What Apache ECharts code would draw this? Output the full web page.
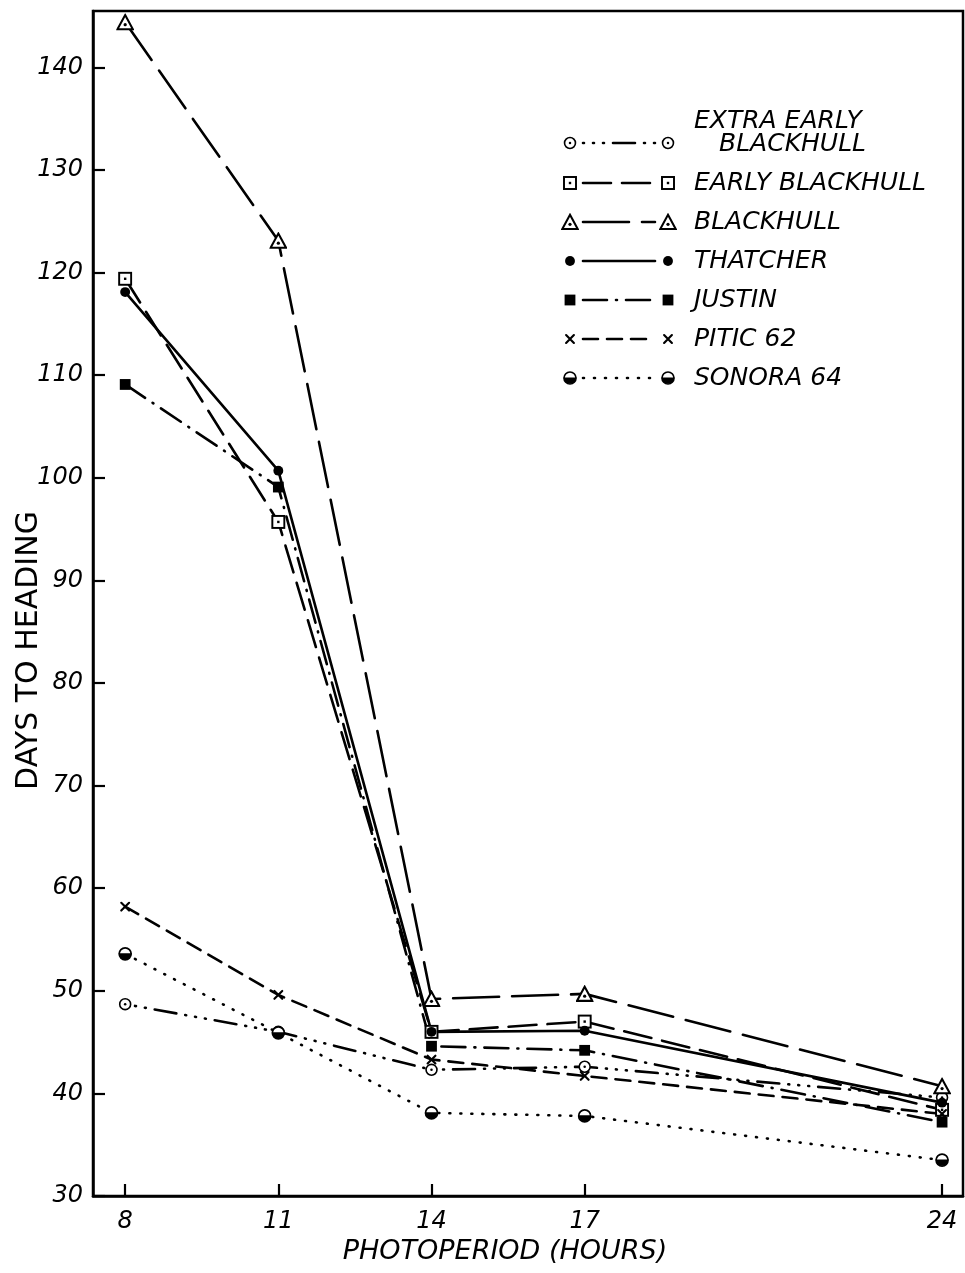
<!DOCTYPE html>
<html><head><meta charset="utf-8">
<script src="https://cdn.jsdelivr.net/npm/echarts@6/dist/echarts.min.js"></script>
<style>html,body{margin:0;padding:0;background:#fff}#c{width:965px;height:1273px}</style>
</head><body><div id="c"></div>
<script>
// ---- data ----
const photoperiod = [8, 11, 14, 17, 24];
const extraEarlyBlackhull = [48.7, 46.0, 42.3, 42.6, 39.6];
const earlyBlackhull = [119.4, 95.7, 46.0, 47.0, 38.4];
const blackhull = [144.4, 123.1, 49.2, 49.7, 40.7];
const thatcher = [118.1, 100.7, 46.0, 46.1, 39.1];
const justin = [109.1, 99.1, 44.6, 44.2, 37.2];
const pitic62 = [58.2, 49.6, 43.3, 41.7, 38.0];
const sonora64 = [53.6, 45.9, 38.1, 37.8, 33.5];
const xTicks = [8, 11, 14, 17, 24];
const yTicks = [30, 40, 50, 60, 70, 80, 90, 100, 110, 120, 130, 140];
const seriesNames = ['EXTRA EARLY BLACKHULL', 'EARLY BLACKHULL', 'BLACKHULL', 'THATCHER', 'JUSTIN', 'PITIC 62', 'SONORA 64'];
const xAxisTitle = 'PHOTOPERIOD (HOURS)';
const yAxisTitle = 'DAYS TO HEADING';

// ---- styles ----
const FONT = 'DejaVu Sans';
function svgUrl(body) {
  return 'data:image/svg+xml;charset=utf-8,' + encodeURIComponent(
    "<svg xmlns='http://www.w3.org/2000/svg' width='40' height='40' viewBox='0 0 20 20'>" + body + "</svg>");
}
const markers = {
  circleDot: svgUrl("<circle cx='10' cy='10' r='7.8' fill='white' stroke='black' stroke-width='2.3'/><circle cx='10' cy='10' r='1.8' fill='black'/>"),
  squareDot: svgUrl("<rect x='2' y='2' width='16' height='16' fill='white' stroke='black' stroke-width='2.6'/><rect x='8.4' y='8.4' width='3.2' height='3.2' fill='black'/>"),
  triangleDot: svgUrl("<polygon points='10,2 18.6,17.8 1.4,17.8' fill='white' stroke='black' stroke-width='2.3'/><circle cx='10' cy='12.6' r='1.8' fill='black'/>"),
  dot: svgUrl("<circle cx='10' cy='10' r='9' fill='black'/>"),
  filledSquare: svgUrl("<rect x='1' y='1' width='18' height='18' fill='black'/>"),
  cross: svgUrl("<path d='M3.5,3.5 L16.5,16.5 M16.5,3.5 L3.5,16.5' stroke='black' stroke-width='3.6' stroke-linecap='round'/>"),
  halfCircle: svgUrl("<circle cx='10' cy='10' r='8' fill='white' stroke='black' stroke-width='2.3'/><path d='M1.6,9.2 A8.4,8.4 0 0 0 18.4,9.2 Z' fill='black'/>")
};
const styles = [
  { marker: markers.circleDot, size: 14, dash: [1, 9, 1, 9, 1, 9, 22, 9] },
  { marker: markers.squareDot, size: 15, dash: [28, 11] },
  { marker: markers.triangleDot, size: 18, dash: [46, 13] },
  { marker: markers.dot, size: 11, dash: 'solid' },
  { marker: markers.filledSquare, size: 12, dash: [24, 9, 1, 9] },
  { marker: markers.cross, size: 12, dash: [15, 9] },
  { marker: markers.halfCircle, size: 15, dash: [1, 10] }
];
const values = [extraEarlyBlackhull, earlyBlackhull, blackhull, thatcher, justin, pitic62, sonora64];

const series = values.map((vals, i) => ({
  name: seriesNames[i],
  type: 'line',
  data: photoperiod.map((x, j) => [x, vals[j]]),
  symbol: 'image://' + styles[i].marker,
  symbolSize: styles[i].size,
  showAllSymbol: true,
  lineStyle: { color: '#000', width: 2.6, type: styles[i].dash, cap: 'round' },
  itemStyle: { color: '#000' },
  emphasis: { disabled: true },
  animation: false
}));

// ---- legend drawn as graphic (marker – line – marker, label) ----
const legendEls = [];
const rowY = [143, 183, 222, 261, 300, 339, 378];
const LFONT = 'italic 25px "' + FONT + '"';
styles.forEach((s, i) => {
  const y = rowY[i];
  legendEls.push({ type: 'line', shape: { x1: 583, y1: y, x2: 655, y2: y },
    style: { stroke: '#000', lineWidth: 2.6, lineDash: s.dash === 'solid' ? null : s.dash, lineCap: 'round' } });
  [570, 668].forEach(cx => legendEls.push({ type: 'image',
    style: { image: s.marker, x: cx - s.size / 2, y: y - s.size / 2, width: s.size, height: s.size } }));
  if (i === 0) {
    legendEls.push({ type: 'text', style: { text: 'EXTRA EARLY', x: 694, y: 121, fill: '#000', font: LFONT, verticalAlign: 'middle' } });
    legendEls.push({ type: 'text', style: { text: 'BLACKHULL', x: 719, y: 144, fill: '#000', font: LFONT, verticalAlign: 'middle' } });
  } else {
    legendEls.push({ type: 'text', style: { text: seriesNames[i], x: 694, y: y, fill: '#000', font: LFONT, verticalAlign: 'middle' } });
  }
});

const chart = echarts.init(document.getElementById('c'), null, { renderer: 'canvas' });
chart.setOption({
  backgroundColor: '#fff',
  animation: false,
  grid: { left: 93, right: 2, top: 11, bottom: 77, show: true, borderColor: '#000', borderWidth: 2.5, containLabel: false, outerBoundsMode: 'none' },
  xAxis: {
    type: 'value', min: 7.37, max: 24.41,
    name: xAxisTitle, nameLocation: 'middle', nameGap: 41,
    nameTextStyle: { fontFamily: FONT, fontStyle: 'italic', fontSize: 27, color: '#000', padding: [0, 46, 0, 0] },
    axisLine: { show: true, lineStyle: { color: '#000', width: 2.5 } },
    axisTick: { show: true, inside: true, length: 12, lineStyle: { color: '#000', width: 2.2 }, customValues: xTicks },
    axisLabel: { show: true, margin: 14, fontFamily: FONT, fontStyle: 'italic', fontSize: 24, color: '#000', customValues: xTicks },
    splitLine: { show: false }
  },
  yAxis: {
    type: 'value', min: 30, max: 145.5,
    name: yAxisTitle, nameLocation: 'middle', nameRotate: 90, nameGap: 49, nameMoveOverlap: false,
    nameTextStyle: { fontFamily: FONT, fontStyle: 'normal', fontSize: 30, color: '#000', padding: [0, 94, 0, 0] },
    axisLine: { show: true, lineStyle: { color: '#000', width: 2.5 } },
    axisTick: { show: true, inside: true, length: 12, lineStyle: { color: '#000', width: 2.2 }, customValues: yTicks },
    axisLabel: { show: true, margin: 10, fontFamily: FONT, fontStyle: 'italic', fontSize: 24, color: '#000', customValues: yTicks },
    splitLine: { show: false }
  },
  graphic: legendEls,
  series: series
});
</script></body></html>
